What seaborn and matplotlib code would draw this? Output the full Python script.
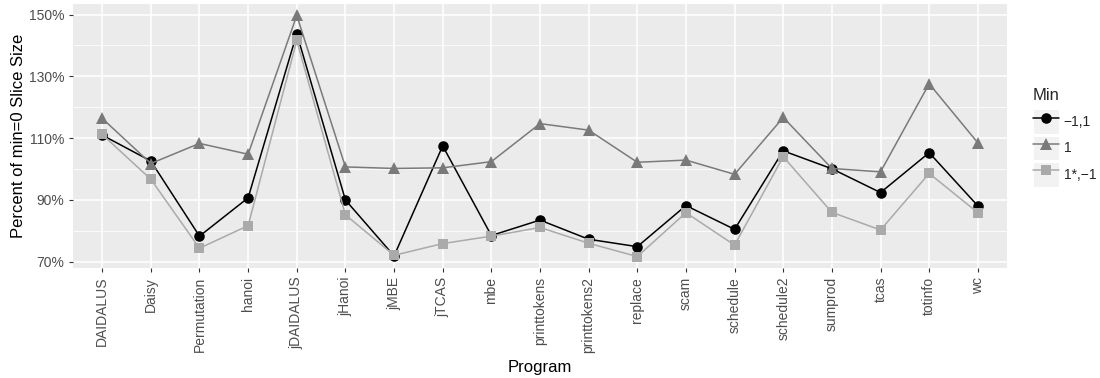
import numpy as np
import pandas as pd
import matplotlib
matplotlib.use("Agg")
import matplotlib.pyplot as plt
import seaborn as sns
from matplotlib.legend_handler import HandlerLine2D
from matplotlib.lines import Line2D
from matplotlib.patches import Rectangle
from matplotlib.ticker import FixedLocator, FuncFormatter

programs = ["DAIDALUS", "Daisy", "Permutation", "hanoi", "jDAIDALUS", "jHanoi", "jMBE",
            "jTCAS", "mbe", "printtokens", "printtokens2", "replace", "scam", "schedule",
            "schedule2", "sumprod", "tcas", "totinfo", "wc"]
min_labels = ["\u22121,1", "1", "1*,\u22121"]
vals_m11 = [111.0, 102.6, 78.3, 90.7, 143.8, 90.0, 71.9, 107.5, 78.5, 83.5, 77.3, 74.9,
            88.2, 80.5, 105.9, 100.1, 92.4, 105.3, 88.1]
vals_1 = [116.4, 101.8, 108.3, 104.8, 149.7, 100.7, 100.2, 100.4, 102.4, 114.7, 112.6, 102.2,
          102.9, 98.3, 116.7, 100.2, 99.1, 127.6, 108.5]
vals_1s = [111.2, 96.7, 74.4, 81.7, 141.6, 85.2, 72.1, 75.9, 78.3, 81.1, 76.0, 71.7,
           85.9, 75.4, 104.0, 86.0, 80.3, 98.6, 85.9]
y_ticks = [70, 90, 110, 130, 150]
y_minor = [80, 100, 120, 140]

df = pd.concat([
    pd.DataFrame({"Program": programs, "Percent": v, "Min": lab})
    for lab, v in zip(min_labels, [vals_m11, vals_1, vals_1s])
], ignore_index=True)

sns.set_style("darkgrid")
plt.rcParams["font.family"] = ["Liberation Sans", "DejaVu Sans"]

colors = {min_labels[0]: "#000000", min_labels[1]: "#7A7A7A", min_labels[2]: "#AAAAAA"}
markers = {min_labels[0]: "o", min_labels[1]: "^", min_labels[2]: "s"}
msizes = {min_labels[0]: 7.6, min_labels[1]: 9.0, min_labels[2]: 7.2}

fig = plt.figure(figsize=(11, 3.78), dpi=100)
ax = fig.add_axes([73 / 1100, 1 - 268.3 / 378, (1007 - 73) / 1100, (268.3 - 4) / 378])
ax.set_facecolor("#EBEBEB")

sns.lineplot(data=df, x="Program", y="Percent", hue="Min", style="Min",
             hue_order=min_labels, style_order=min_labels,
             palette=colors, markers=markers, dashes=False, legend=False,
             linewidth=1.1, markeredgewidth=0, ax=ax, sort=False)

for line, lab in zip(ax.lines, min_labels):
    line.set_markersize(msizes[lab])
    line.set_markeredgewidth(0)

ax.set_xlim(-0.6, len(programs) - 1 + 0.6)
ax.set_ylim(67.9, 153.4)
ax.yaxis.set_major_locator(FixedLocator(y_ticks))
ax.yaxis.set_minor_locator(FixedLocator(y_minor))
ax.yaxis.set_major_formatter(FuncFormatter(lambda v, p: f"{v:.0f}%"))
ax.set_xticks(range(len(programs)))
ax.set_xticklabels(programs, rotation=90)

ax.grid(which="major", color="white", linewidth=1.1)
ax.grid(which="minor", axis="y", color="white", linewidth=0.55)
ax.set_axisbelow(True)
for s in ax.spines.values():
    s.set_visible(False)
ax.tick_params(axis="both", which="major", length=2.6, width=0.8, color="#333333",
               labelcolor="#4D4D4D", labelsize=10, pad=3.5)
ax.tick_params(axis="y", which="minor", length=0)
ax.tick_params(bottom=True, left=True)

ax.set_xlabel("Program", fontsize=12, color="black", labelpad=5)
ax.set_ylabel("Percent of min=0 Slice Size", fontsize=12, color="black", labelpad=2)


class KeyHandler(HandlerLine2D):
    def create_artists(self, legend, orig_handle, xdescent, ydescent, width, height,
                       fontsize, trans):
        rect = Rectangle((-xdescent, -ydescent), width, height, facecolor="#F2F2F2",
                         edgecolor="white", linewidth=0.8, transform=trans)
        arts = super().create_artists(legend, orig_handle, xdescent, ydescent, width,
                                      height, fontsize, trans)
        return [rect] + list(arts)


handles = [Line2D([], [], color=colors[l], marker=markers[l], markersize=msizes[l],
                  markeredgewidth=0, linewidth=1.1) for l in min_labels]
leg = ax.legend(handles, min_labels, title="Min", loc="center left",
                bbox_to_anchor=(1.0 + 26 / 934, 0.495), frameon=False, fontsize=10,
                title_fontsize=12, handlelength=1.85, handleheight=2.33,
                labelspacing=0.14, handletextpad=0.35, borderpad=0, borderaxespad=0,
                numpoints=1, handler_map={Line2D: KeyHandler(marker_pad=0)},
                alignment="left")
leg._legend_box.sep = 4.4

fig.savefig("out.png", dpi=100)
